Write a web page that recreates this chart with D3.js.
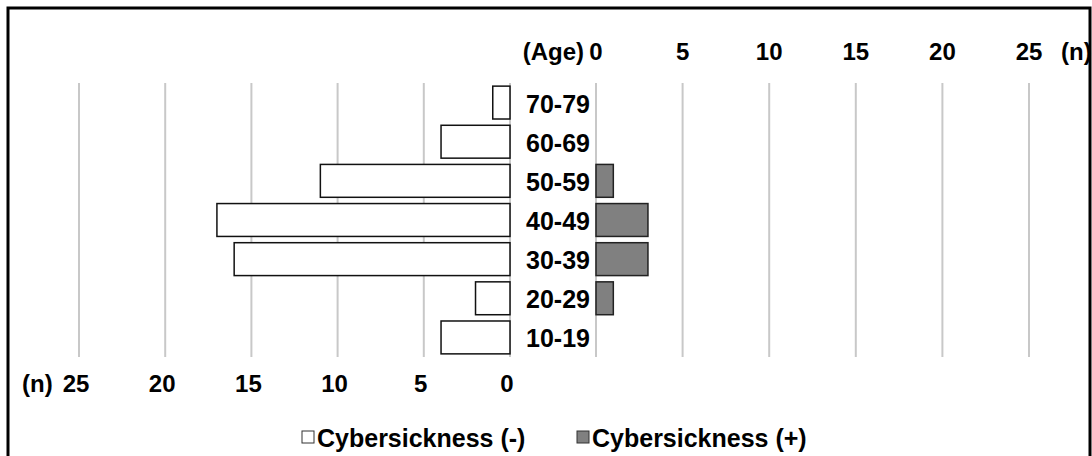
<!DOCTYPE html>
<html><head><meta charset="utf-8">
<script src="https://cdn.jsdelivr.net/npm/d3@7"></script>
<style>html,body{margin:0;padding:0;background:#fff;}svg{display:block;}</style>
</head><body>
<script>
const ageGroups = ["70-79","60-69","50-59","40-49","30-39","20-29","10-19"];
const negValues = [1,4,11,17,16,2,4];   // Cybersickness (-)
const posValues = [0,0,1,3,3,1,0];      // Cybersickness (+)
const tickValues = [0,5,10,15,20,25];
const seriesNames = ["Cybersickness (-)","Cybersickness (+)"];

const W = 1092, H = 456;
const FONT = "'Liberation Sans', Arial, sans-serif";
const svg = d3.select("body").append("svg").attr("width", W).attr("height", H);

const xL = d3.scaleLinear().domain([25, 0]).range([79, 510]);
const xR = d3.scaleLinear().domain([0, 25]).range([596, 1029]);
const y = d3.scaleBand().domain(ageGroups).range([83, 357]).paddingInner(0.16).paddingOuter(0.08);

// gridlines
svg.append("g").selectAll("line").data(tickValues).join("line")
  .attr("x1", d => xL(d)).attr("x2", d => xL(d)).attr("y1", 83).attr("y2", 357)
  .attr("stroke", "#c8c8c8").attr("stroke-width", 2);
svg.append("g").selectAll("line").data(tickValues).join("line")
  .attr("x1", d => xR(d)).attr("x2", d => xR(d)).attr("y1", 83).attr("y2", 357)
  .attr("stroke", "#c8c8c8").attr("stroke-width", 2);

// bars
svg.append("g").selectAll("rect").data(ageGroups).join("rect")
  .attr("x", (d, i) => xL(negValues[i])).attr("y", d => y(d))
  .attr("width", (d, i) => xL(0) - xL(negValues[i])).attr("height", y.bandwidth())
  .attr("fill", "#fff").attr("stroke", "#111").attr("stroke-width", 1.5);
svg.append("g").selectAll("rect").data(ageGroups.filter((d, i) => posValues[i] > 0)).join("rect")
  .attr("x", xR(0)).attr("y", d => y(d))
  .attr("width", d => xR(posValues[ageGroups.indexOf(d)]) - xR(0)).attr("height", y.bandwidth())
  .attr("fill", "#808080").attr("stroke", "#222").attr("stroke-width", 1.5);

// age labels
svg.append("g").selectAll("text").data(ageGroups).join("text")
  .attr("x", 558).attr("y", d => y(d) + y.bandwidth() / 2 + 1)
  .attr("text-anchor", "middle").attr("dominant-baseline", "central")
  .attr("font-family", FONT).attr("font-weight", "bold").attr("font-size", 25)
  .text(d => d);

// top axis (right)
const topAxis = svg.append("g").attr("transform", "translate(0,60)");
topAxis.selectAll("text").data(tickValues).join("text")
  .attr("x", d => xR(d)).attr("text-anchor", "middle")
  .attr("font-family", FONT).attr("font-weight", "bold").attr("font-size", 24)
  .text(d => d);
topAxis.append("text").attr("x", 584).attr("text-anchor", "end")
  .attr("font-family", FONT).attr("font-weight", "bold").attr("font-size", 24).text("(Age)");
topAxis.append("text").attr("x", 1061)
  .attr("font-family", FONT).attr("font-weight", "bold").attr("font-size", 24).text("(n)");

// bottom axis (left)
const botAxis = svg.append("g").attr("transform", "translate(0,392)");
botAxis.selectAll("text").data(tickValues).join("text")
  .attr("x", d => xL(d) - 3).attr("text-anchor", "middle")
  .attr("font-family", FONT).attr("font-weight", "bold").attr("font-size", 24)
  .text(d => d);
botAxis.append("text").attr("x", 22)
  .attr("font-family", FONT).attr("font-weight", "bold").attr("font-size", 24).text("(n)");

// legend
const leg = svg.append("g").attr("transform", "translate(0,437)");
const legX = [302, 577];
const legFill = ["#fff", "#808080"];
seriesNames.forEach((name, i) => {
  leg.append("rect").attr("x", legX[i]).attr("y", -6).attr("width", 12).attr("height", 12)
    .attr("fill", legFill[i]).attr("stroke", "#333").attr("stroke-width", 1);
  leg.append("text").attr("x", legX[i] + 15).attr("y", 1).attr("dominant-baseline", "central")
    .attr("font-family", FONT).attr("font-weight", "bold").attr("font-size", 25).text(name);
});

// outer frame (drawn last so it clips text visually like the reference)
svg.append("rect").attr("x", 8).attr("y", 8).attr("width", 1082).attr("height", 480)
  .attr("fill", "none").attr("stroke", "#000").attr("stroke-width", 3);
</script>
</body></html>
